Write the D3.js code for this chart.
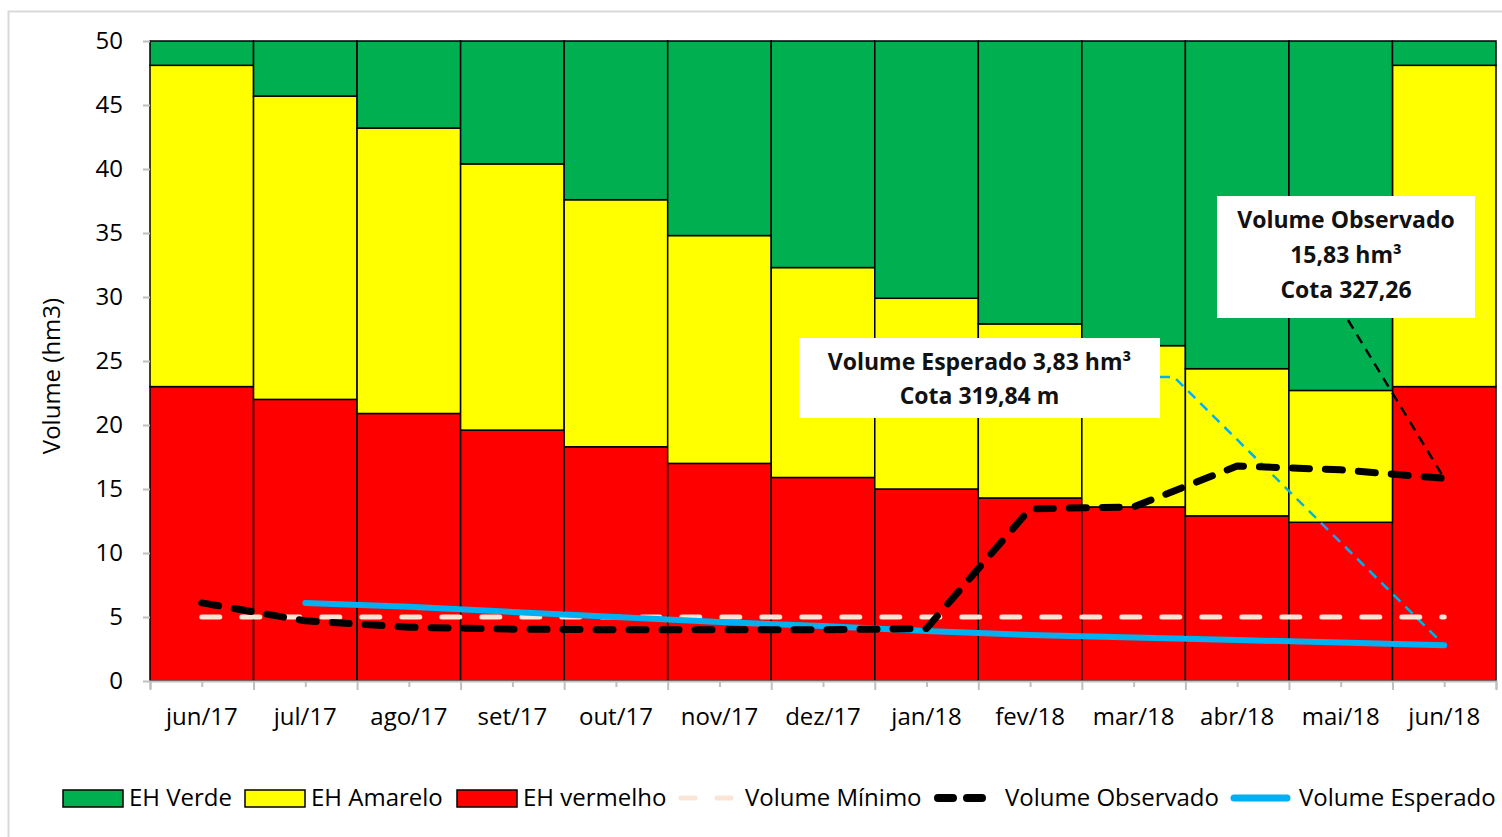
<!DOCTYPE html>
<html>
<head>
<meta charset="utf-8">
<script src="https://cdn.jsdelivr.net/npm/d3@7"></script>
<style>
  body { margin: 0; background: #fff; }
  svg { display: block; font-family: "Open Sans", Lato, sans-serif; }
</style>
</head>
<body>
<svg id="chart"></svg>
<script>
// months on the x axis
var months = ["jun/17", "jul/17", "ago/17", "set/17", "out/17", "nov/17", "dez/17",
              "jan/18", "fev/18", "mar/18", "abr/18", "mai/18", "jun/18"];

// band limits (hm3)
var ehVermelho = [23.0, 22.0, 20.9, 19.6, 18.3, 17.0, 15.9, 15.0, 14.3, 13.6, 12.9, 12.4, 23.0];
var ehAmarelo  = [25.1, 23.7, 22.3, 20.8, 19.3, 17.8, 16.4, 14.9, 13.6, 12.6, 11.5, 10.3, 25.1];
var ehVerde    = [1.9, 4.3, 6.8, 9.6, 12.4, 15.2, 17.7, 20.1, 22.1, 23.8, 25.6, 27.3, 1.9];

var volMinimo     = [5, 5, 5, 5, 5, 5, 5, 5, 5, 5, 5, 5, 5];
var volObservado  = [6.1, 4.7, 4.2, 4.05, 4.0, 4.0, 4.0, 4.1, 13.45, 13.6, 16.8, 16.5, 15.83];
var volEsperado   = [null, 6.1, 5.8, 5.4, 5.0, 4.6, 4.3, 3.9, 3.6, 3.4, 3.2, 3.0, 2.8];

var yTicks = [0, 5, 10, 15, 20, 25, 30, 35, 40, 45, 50];

var width = 1502, height = 837;
var margin = {left: 150, right: 6, top: 41, bottom: 156};
var font = "'Open Sans', Lato, sans-serif";
var fontSize = 24;

var svg = d3.select("#chart")
    .attr("width", width)
    .attr("height", height);

// outer chart frame (only top and left edges show)
svg.append("path")
    .attr("d", "M8.5," + height + "V11.5H" + width)
    .attr("fill", "none")
    .attr("stroke", "#d9d9d9")
    .attr("stroke-width", 2);

var x = d3.scaleBand()
    .domain(months)
    .range([margin.left, width - margin.right])
    .padding(0);

var xi = d3.scaleLinear()
    .domain([0, months.length])
    .range([margin.left, width - margin.right]);

var y = d3.scaleLinear()
    .domain([0, 50])
    .range([height - margin.bottom, margin.top]);

var rows = months.map(function (m, i) {
    return {month: m, vermelho: ehVermelho[i], amarelo: ehAmarelo[i], verde: ehVerde[i]};
});

var keys = ["vermelho", "amarelo", "verde"];
var colors = {vermelho: "#ff0000", amarelo: "#ffff00", verde: "#00b050"};

var stacked = d3.stack().keys(keys)(rows);

svg.append("g")
    .selectAll("g")
    .data(stacked)
    .enter()
    .append("g")
    .attr("fill", function (d) { return colors[d.key]; })
    .selectAll("rect")
    .data(function (d) { return d; })
    .enter()
    .append("rect")
    .attr("x", function (d) { return x(d.data.month); })
    .attr("width", x.bandwidth())
    .attr("y", function (d) { return y(d[1]); })
    .attr("height", function (d) { return y(d[0]) - y(d[1]); })
    .attr("stroke", "#000")
    .attr("stroke-width", 1.5);

// y axis
var yAxis = svg.append("g")
    .attr("transform", "translate(" + margin.left + ",0)")
    .call(d3.axisLeft(y).tickValues(yTicks).tickSize(7).tickPadding(20));
yAxis.select(".domain").remove();
yAxis.selectAll("line").attr("stroke", "#bfbfbf").attr("stroke-width", 2);
yAxis.selectAll("text").attr("font-size", fontSize).attr("fill", "#000")
    .attr("font-family", font);

// x axis: ticks at bar edges and centres
var xTicks = svg.append("g")
    .attr("transform", "translate(0," + y(0) + ")")
    .call(d3.axisBottom(xi).tickValues(d3.range(0, months.length + 0.5, 0.5))
        .tickFormat("").tickSize(8));
xTicks.select(".domain").attr("stroke", "#bfbfbf").attr("stroke-width", 2);
xTicks.selectAll("line").attr("stroke", "#bfbfbf").attr("stroke-width", 2)
    .attr("y2", function (d) { return d % 1 === 0 ? 9 : 6; });

var xAxis = svg.append("g")
    .attr("transform", "translate(0," + y(0) + ")")
    .call(d3.axisBottom(x).tickSize(0).tickPadding(27));
xAxis.select(".domain").remove();
xAxis.selectAll("text").attr("font-size", fontSize).attr("fill", "#000")
    .attr("font-family", font);

// y axis title
svg.append("text")
    .attr("transform", "translate(60,376) rotate(-90)")
    .attr("text-anchor", "middle")
    .attr("font-size", fontSize)
    .text("Volume (hm3)");

var cx = function (d, i) { return x(months[i]) + x.bandwidth() / 2; };

function lineFor(values) {
    return d3.line()
        .defined(function (d) { return d != null; })
        .x(cx)
        .y(function (d) { return y(d); })(values);
}

// leader lines of the two data labels
var last = months.length - 1;
svg.append("path")
    .attr("d", "M1160,377H1174L" + cx(null, last) + "," + y(volEsperado[last]))
    .attr("fill", "none").attr("stroke", "#00b0f0").attr("stroke-width", 2.5)
    .attr("stroke-dasharray", "10,7");
svg.append("path")
    .attr("d", "M1348,320L" + cx(null, last) + "," + y(volObservado[last]))
    .attr("fill", "none").attr("stroke", "#000").attr("stroke-width", 2.5)
    .attr("stroke-dasharray", "10,7");

svg.append("path")
    .attr("d", lineFor(volMinimo))
    .attr("fill", "none")
    .attr("stroke", "#fbe5d6")
    .attr("stroke-width", 5)
    .attr("stroke-linecap", "round")
    .attr("stroke-dasharray", "18,22");

svg.append("path")
    .attr("d", lineFor(volEsperado))
    .attr("fill", "none")
    .attr("stroke", "#00b0f0")
    .attr("stroke-width", 6)
    .attr("stroke-linecap", "round");

svg.append("path")
    .attr("d", lineFor(volObservado))
    .attr("fill", "none")
    .attr("stroke", "#000")
    .attr("stroke-width", 7)
    .attr("stroke-linecap", "round")
    .attr("stroke-linejoin", "round")
    .attr("stroke-dasharray", "17,16");

// data label boxes
function labelBox(bx, by, bw, bh, lines, lineGap) {
    var g = svg.append("g");
    g.append("rect")
        .attr("x", bx).attr("y", by).attr("width", bw).attr("height", bh)
        .attr("fill", "#fff");
    g.selectAll("text")
        .data(lines)
        .enter()
        .append("text")
        .attr("x", bx + bw / 2)
        .attr("y", function (d, i) { return by + 32 + i * lineGap; })
        .attr("text-anchor", "middle")
        .attr("font-size", 23)
        .attr("font-weight", "bold")
        .attr("fill", "#111")
        .text(function (d) { return d; });
}
labelBox(799, 338, 361, 80, ["Volume Esperado  3,83 hm\u00b3", "Cota 319,84 m"], 34);
labelBox(1217, 196, 258, 122, ["Volume Observado", "15,83 hm\u00b3", "Cota 327,26"], 35);

// legend
var legendY = 798;
var legendItems = [
    {label: "EH Verde", type: "rect", color: "#00b050", sx: 63, tx: 129},
    {label: "EH Amarelo", type: "rect", color: "#ffff00", sx: 245, tx: 311},
    {label: "EH vermelho", type: "rect", color: "#ff0000", sx: 457, tx: 523},
    {label: "Volume M\u00ednimo", type: "line", color: "#fbe5d6", sx: 681, tx: 745, w: 5, dash: "14,22"},
    {label: "Volume Observado", type: "line", color: "#000", sx: 938, tx: 1005, w: 8, dash: "15,14"},
    {label: "Volume Esperado", type: "line", color: "#00b0f0", sx: 1234, tx: 1299, w: 7, dash: null}
];
var legend = svg.append("g");
legendItems.forEach(function (d) {
    if (d.type === "rect") {
        legend.append("rect")
            .attr("x", d.sx).attr("y", legendY - 8).attr("width", 60).attr("height", 17)
            .attr("fill", d.color).attr("stroke", "#000").attr("stroke-width", 1.5);
    } else {
        legend.append("line")
            .attr("x1", d.sx).attr("x2", d.sx + 53)
            .attr("y1", legendY).attr("y2", legendY)
            .attr("stroke", d.color).attr("stroke-width", d.w)
            .attr("stroke-linecap", "round")
            .attr("stroke-dasharray", d.dash);
    }
    legend.append("text")
        .attr("x", d.tx).attr("y", legendY + 8)
        .attr("font-size", fontSize)
        .text(d.label);
});
</script>
</body>
</html>
